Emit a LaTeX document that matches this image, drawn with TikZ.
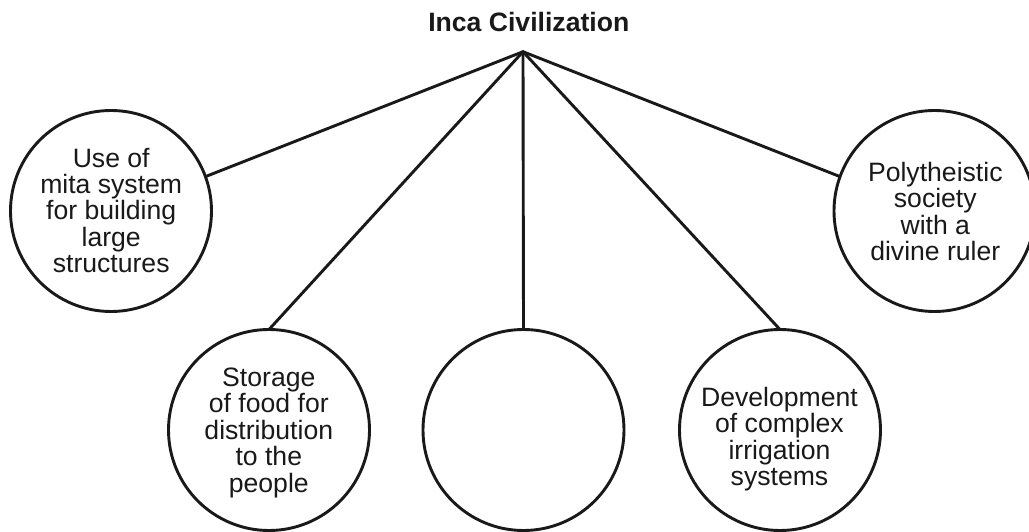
\documentclass[tikz,border=0pt]{standalone}
\usepackage{fontspec}
\setmainfont{Liberation Sans}
\begin{document}
\begin{tikzpicture}[x=1pt,y=1pt,
  bubble/.style={draw=black!90,line width=2.9pt,circle,minimum size=201pt,inner sep=0pt,outer sep=0pt},
  btext/.style={align=center,font=\fontsize{26.6pt}{26.4pt}\selectfont,inner sep=0pt,text=black!90},
  link/.style={draw=black!90,line width=2.9pt,line cap=round}]
\useasboundingbox (0,0) rectangle (1029,531);
\clip (0,0) rectangle (1029,531);
\node[font=\bfseries\fontsize{26.6pt}{30pt}\selectfont,anchor=base,inner sep=0pt,text=black!90] (title) at (528.8,499.3) {Inca Civilization};
\coordinate (apex) at (523,479.3);
\node[bubble] (c1) at (111,320) {};
\node[bubble] (c2) at (269,101) {};
\node[bubble] (c3) at (523.5,101) {};
\node[bubble] (c4) at (780,101) {};
\node[bubble] (c5) at (934.5,320) {};
\node[btext] (t1) at (111.2,320.5) {Use of\\mita system\\for building\\large\\structures};
\node[btext] (t2) at (268.8,98.3) {Storage\\of food for\\distribution\\to the\\people};
\node[btext] (t4) at (779.5,91.9) {Development\\of complex\\irrigation\\systems};
\node[btext] (t5) at (935.3,319.7) {Polytheistic\\society\\with a\\divine ruler};
\draw[link] (apex) -- (c1.20);
\draw[link] (apex) -- (c2.north);
\draw[link] (apex) -- (c3.north);
\draw[link] (apex) -- (c4.north);
\draw[link] (apex) -- (c5.160);
\end{tikzpicture}
\end{document}
